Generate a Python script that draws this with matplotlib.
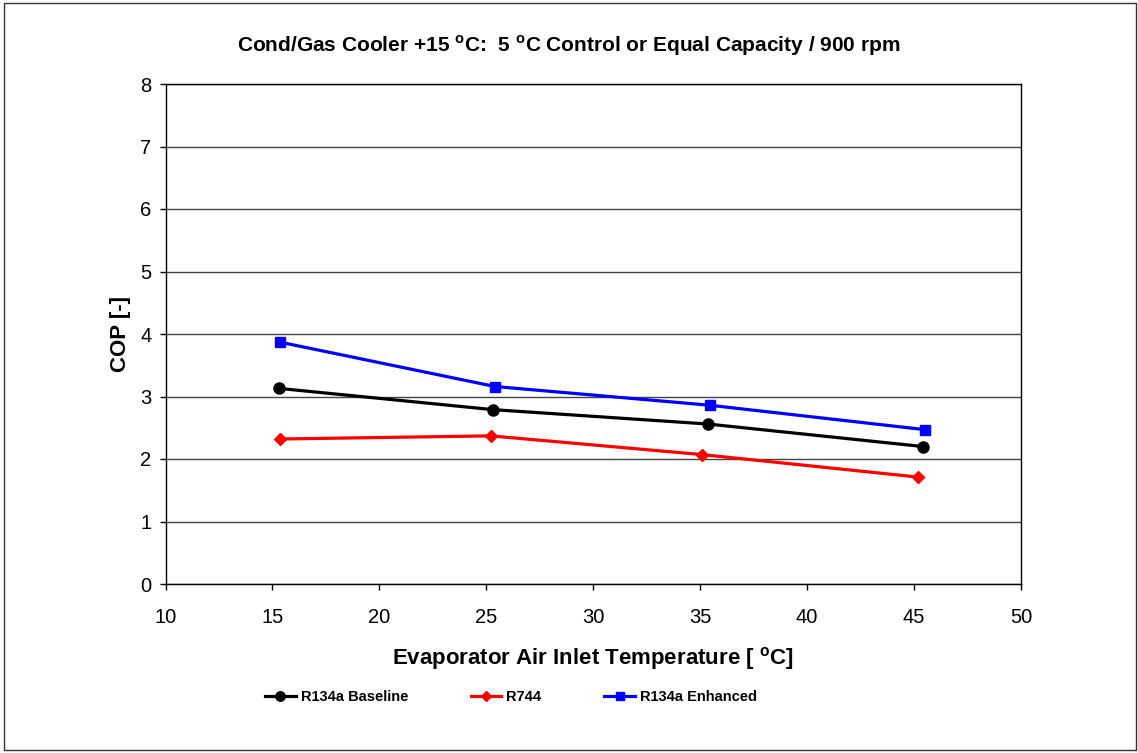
import matplotlib.pyplot as plt
from matplotlib.patches import Rectangle

plt.rcParams['font.family'] = ['Liberation Sans', 'DejaVu Sans']

# evaporator air inlet temperature [°C] and COP for each refrigerant
temp_base = [15.3, 25.3, 35.35, 45.4]
cop_base = [3.13, 2.79, 2.56, 2.20]

temp_r744 = [15.35, 25.2, 35.1, 45.2]
cop_r744 = [2.32, 2.37, 2.07, 1.71]

temp_enh = [15.35, 25.4, 35.45, 45.5]
cop_enh = [3.87, 3.16, 2.86, 2.47]

x_ticks = [10, 15, 20, 25, 30, 35, 40, 45, 50]
y_ticks = [0, 1, 2, 3, 4, 5, 6, 7, 8]

fig = plt.figure(figsize=(11.38, 7.53), dpi=100)
ax = fig.add_axes([165.5 / 1138, 1 - 584 / 753, (1021 - 165.5) / 1138, 500 / 753])

ax.plot(temp_base, cop_base, color='black', lw=2.3, marker='o', ms=8,
        label='R134a Baseline')
ax.plot(temp_r744, cop_r744, color='#ff0000', lw=2.3, marker='D', ms=6.5,
        label='R744')
ax.plot(temp_enh, cop_enh, color='#0000ff', lw=2.3, marker='s', ms=7.5,
        label='R134a Enhanced')

ax.set_xlim(10, 50)
ax.set_ylim(0, 8)
ax.set_xticks(x_ticks)
ax.set_yticks(y_ticks)
ax.tick_params(direction='out', length=4, width=1, labelsize=14.5, colors='black')
ax.tick_params(axis='x', pad=13)
ax.tick_params(axis='y', pad=6)
ax.yaxis.grid(True, color='#444444', lw=1)
ax.set_axisbelow(True)
for sp in ax.spines.values():
    sp.set_color('black')
    sp.set_linewidth(1)

ax.set_xlabel('Evaporator Air Inlet Temperature [ $^{\\mathregular{o}}$C]',
              fontsize=16, fontweight='bold', labelpad=13)
ax.set_ylabel('COP [-]', fontsize=16, fontweight='bold', labelpad=7)

fig.text(569 / 1138, 1 - 46 / 753,
         'Cond/Gas Cooler +15 $^{\\mathregular{o}}$C:  5 $^{\\mathregular{o}}$C Control or Equal Capacity / 900 rpm',
         ha='center', va='center', fontsize=15, fontweight='bold')

fig.legend(loc='center', bbox_to_anchor=(511 / 1138, 1 - 697 / 753), ncol=3,
           frameon=False, prop={'weight': 'bold', 'size': 10.5},
           handlelength=2.1, handletextpad=0.35, columnspacing=4.3,
           markerscale=0.85)

# outer chart border
fig.patches.append(Rectangle((4 / 1138, 3 / 753), 1 - 6 / 1138, 1 - 6 / 753,
                             transform=fig.transFigure, fill=False,
                             edgecolor='#333333', lw=1))

fig.savefig('out.png', dpi=100)
